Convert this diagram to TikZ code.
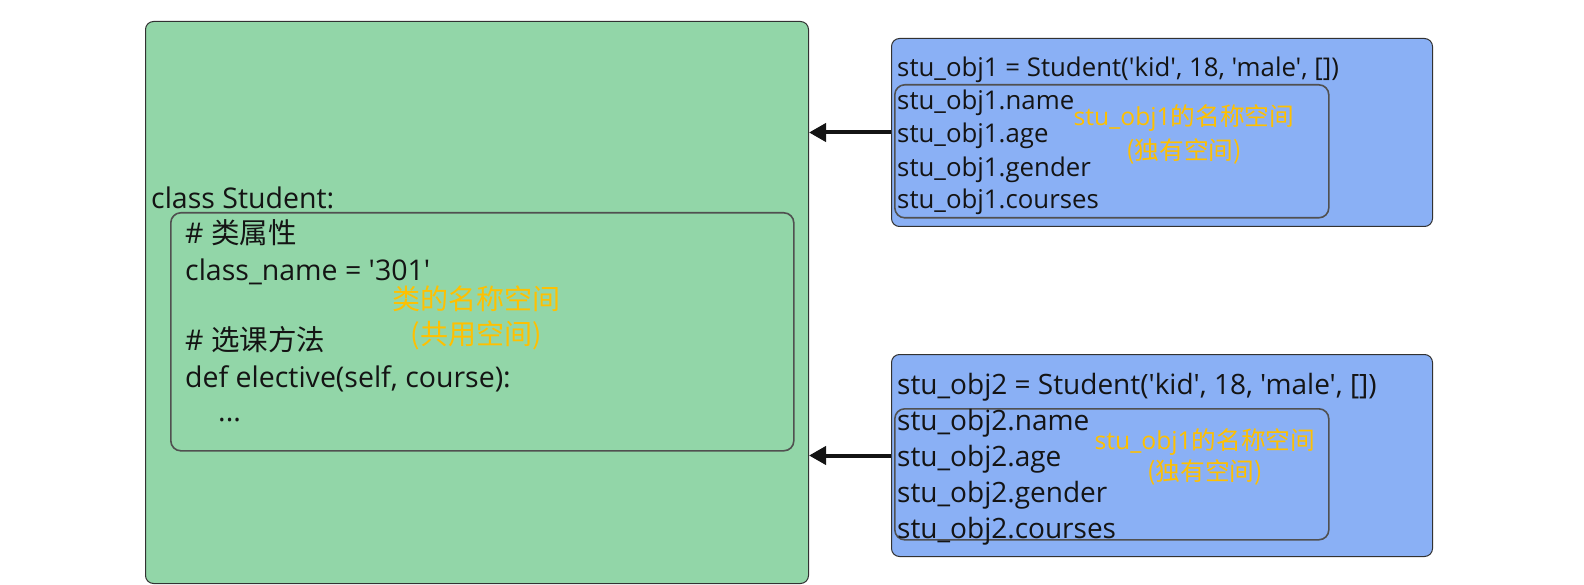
\documentclass[tikz,border=0pt]{standalone}
\usepackage{fontspec}
\newfontfamily\latinfont{Open Sans}
\newfontfamily\cjk{Noto Sans CJK SC}
\usetikzlibrary{arrows.meta}
\definecolor{greenfill}{RGB}{146,214,168}
\definecolor{bluefill}{RGB}{138,176,245}
\definecolor{labelyellow}{RGB}{255,192,0}
\definecolor{edgedark}{RGB}{50,50,50}
\definecolor{edgegray}{RGB}{80,80,80}
\definecolor{textdark}{RGB}{20,20,20}
\tikzset{
  outerbox/.style={draw=edgedark, line width=1pt, rounded corners=8pt, anchor=north west, inner sep=0pt},
  innerbox/.style={draw=edgegray, line width=1.6pt, rounded corners=10pt, anchor=north west, inner sep=0pt},
  codetext/.style={anchor=base west, inner sep=0pt, text=textdark, font=\latinfont\fontsize{25.8}{30}\selectfont},
  codetextb/.style={codetext, font=\latinfont\fontsize{28}{32}\selectfont},
  codetextc/.style={codetext, font=\latinfont\fontsize{28.5}{33}\selectfont},
  nslabel/.style={anchor=base, inner sep=0pt, text=labelyellow, font=\latinfont\fontsize{24.7}{28}\selectfont},
  nslabelc/.style={nslabel, font=\latinfont\fontsize{28}{32}\selectfont},
  link/.style={draw=textdark, line width=4pt, -{Triangle[length=17pt,width=18pt]}}
}
\begin{document}
\begin{tikzpicture}[x=1pt,y=-1pt]
\useasboundingbox (0,0) rectangle (1584,585);
% class box
\node[outerbox, fill=greenfill, minimum width=663pt, minimum height=562pt] (cls) at (145,21) {};
\node[innerbox, minimum width=623pt, minimum height=238pt] (clsns) at (170,212) {};
\node[codetextc] (c0) at (151,209) {class Student:};
\node[codetextc] (c1) at (185,244) {\# {\cjk 类属性}};
\node[codetextc] (c2) at (185,280) {class\_name = '301'};
\node[codetextc] (c3) at (185,350) {\# {\cjk 选课方法}};
\node[codetextc] (c4) at (185,387) {def elective(self, course):};
\node[codetextc] (c5) at (218,421) {...};
\node[nslabelc] (l0) at (476,309) {\cjk 类的名称空间};
\node[nslabelc] (l1) at (476,344) {\cjk (共用空间)};
% object 1
\node[outerbox, fill=bluefill, minimum width=541pt, minimum height=188pt] (o1) at (891,38) {};
\node[innerbox, minimum width=434pt, minimum height=133pt] (o1ns) at (894,84) {};
\node[codetext] (a0) at (897,77) {stu\_obj1 = Student('kid', 18, 'male', [])};
\node[codetext] (a1) at (897,110) {stu\_obj1.name};
\node[codetext] (a2) at (897,143) {stu\_obj1.age};
\node[codetext] (a3) at (897,177) {stu\_obj1.gender};
\node[codetext] (a4) at (897,209) {stu\_obj1.courses};
\node[nslabel] (m0) at (1184,126) {stu\_obj1{\cjk 的名称空间}};
\node[nslabel] (m1) at (1184,160) {\cjk (独有空间)};
% object 2
\node[outerbox, fill=bluefill, minimum width=541pt, minimum height=202pt] (o2) at (891,354) {};
\node[innerbox, minimum width=434pt, minimum height=131pt] (o2ns) at (894,408) {};
\node[codetextb] (b0) at (897,394) {stu\_obj2 = Student('kid', 18, 'male', [])};
\node[codetextb] (b1) at (897,430) {stu\_obj2.name};
\node[codetextb] (b2) at (897,466) {stu\_obj2.age};
\node[codetextb] (b3) at (897,502) {stu\_obj2.gender};
\node[codetextb] (b4) at (897,538) {stu\_obj2.courses};
\node[nslabel] (n0) at (1205,449) {stu\_obj1{\cjk 的名称空间}};
\node[nslabel] (n1) at (1205,480) {\cjk (独有空间)};
% connectors
\draw[link] (o1.west) -- (cls.east |- o1.west);
\draw[link] (o2.west) -- (cls.east |- o2.west);
\end{tikzpicture}
\end{document}
